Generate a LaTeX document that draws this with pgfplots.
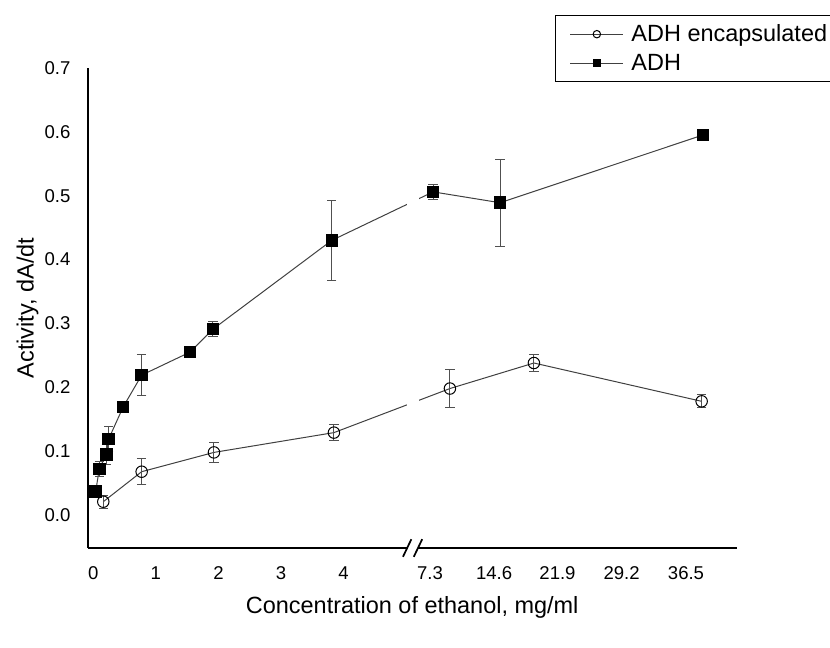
\documentclass[border=0pt]{standalone}
\usepackage{pgfplots}
\pgfplotsset{compat=1.18}
\usepackage{fontspec}
\setmainfont{Liberation Sans}
\definecolor{lin}{HTML}{404040}
\definecolor{eb}{HTML}{505050}
\pgfplotstableread{
u y e
0.038 0.0365 0.0
0.096 0.072 0.012
0.208 0.095 0.016
0.246 0.119 0.019
0.479 0.1695 0.0
0.773 0.219 0.032
1.545 0.255 0.0
1.912 0.291 0.012
3.81 0.430 0.063
5.43 0.506 0.012
6.50 0.489 0.068
9.74 0.595 0.009
}\adh
\pgfplotstableread{
u y e
0.16 0.0208 0.01
0.773 0.0678 0.02
1.928 0.098 0.016
3.845 0.129 0.012
5.698 0.198 0.03
7.04 0.238 0.013
9.72 0.178 0.01
}\enc
\newcommand{\tickfont}{\fontsize{13.9bp}{16bp}\selectfont}
\newcommand{\labfont}{\fontsize{17.6bp}{21bp}\selectfont}
\begin{document}
\begin{tikzpicture}
\path[use as bounding box] (-65.775bp,-75bp) rectangle (556.725bp,411bp);
\begin{axis}[
  at={(0,0)}, anchor=south west,
  scale only axis, width=486.75bp, height=360bp,
  xmin=-0.089, xmax=10.28, ymin=-0.0517, ymax=0.7,
  axis x line=bottom, axis y line=left,
  axis line style={-, line width=1.5bp, black},
  major tick length=0pt,
  xtick={0,1,2,3,4,5.38,6.405,7.417,8.44,9.47},
  xticklabels={0,1,2,3,4,7.3,14.6,21.9,29.2,36.5},
  ytick={0,0.1,...,0.71},
  /pgf/number format/assume math mode=true,
  xticklabel style={font=\tickfont, inner sep=0pt},
  yticklabel style={font=\tickfont, inner sep=0pt, /pgf/number format/fixed, /pgf/number format/precision=1, /pgf/number format/fixed zerofill},
  xticklabel shift=13.8bp, yticklabel shift=12.75bp,
  xlabel={Concentration of ethanol, mg/ml},
  ylabel={Activity, dA/dt},
  xlabel style={font=\labfont, at={(rel axis cs:0.5,0)}, anchor=center, yshift=-44.3bp},
  ylabel style={font=\labfont, at={(rel axis cs:-0.0928,0.5)}, anchor=center},
  clip=false,
  legend cell align=left,
  legend style={at={(rel axis cs:0.72,1.11)}, anchor=north west, draw=black, line width=0.75bp,
    font=\labfont, inner xsep=10.75bp, inner ysep=4.75bp,
    row sep=3.75bp, /tikz/every odd column/.append style={column sep=3.75bp}},
  legend image code/.code={\draw[mark repeat=2,mark phase=2,#1] plot coordinates {(0bp,0bp) (19.9bp,0bp) (39.75bp,0bp)};},
  every legend image post/.style={mark size=2.8bp},
]
\addplot[color=lin, line width=0.75bp, mark=o, mark size=4.3bp, mark options={draw=black, fill=white, line width=0.75bp},
  error bars/.cd, y dir=both, y explicit, error bar style={eb, line width=0.75bp},
  error mark options={rotate=90, mark size=3.5bp, eb, line width=0.75bp}]
  table[x=u, y=y, y error=e] {\enc};
\addlegendentry{ADH encapsulated}
\addplot[color=lin, line width=0.75bp, mark=square*, mark size=4.3bp, mark options={draw=black, fill=black},
  error bars/.cd, y dir=both, y explicit, error bar style={eb, line width=0.75bp},
  error mark options={rotate=90, mark size=3.5bp, eb, line width=0.75bp}]
  table[x=u, y=y, y error=e] {\adh};
\addlegendentry{ADH}
\coordinate (g1) at (axis cs:5.015,-0.02);
\coordinate (g2) at (axis cs:5.2,0.69);
\coordinate (b1) at (axis cs:5.015,-0.0517);
\coordinate (b2) at (axis cs:5.188,-0.0517);
\end{axis}
\fill[white] (g1) rectangle (g2);
\fill[white] ([yshift=-1.5bp]b1) rectangle ([yshift=1.5bp]b2);
\draw[line width=1.3bp] ([shift={(-3.15bp,-6.6bp)}]b1) -- ([shift={(3.15bp,6.6bp)}]b1);
\draw[line width=1.3bp] ([shift={(-3.15bp,-6.6bp)}]b2) -- ([shift={(3.15bp,6.6bp)}]b2);
\end{tikzpicture}
\end{document}
